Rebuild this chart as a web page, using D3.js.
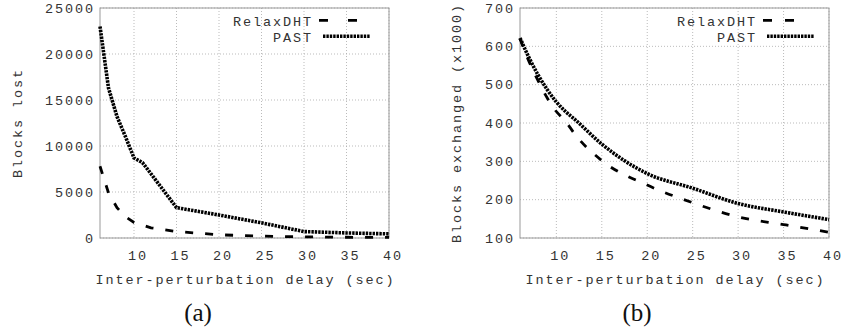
<!DOCTYPE html>
<html>
<head>
<meta charset="utf-8">
<script src="https://cdn.jsdelivr.net/npm/d3@7"></script>
<style>
  body { margin: 0; background: #fff; }
  .mono { font-family: "Liberation Mono", "DejaVu Sans Mono", monospace; font-size: 13.5px; letter-spacing: 1.9px; fill: #333; }
  .caption { font-family: "Liberation Serif", "DejaVu Serif", serif; font-size: 25px; fill: #111; }
  .grid { stroke: #aaa; stroke-width: 0.8; stroke-dasharray: 1,2; }
  .frame { fill: none; stroke: #999; stroke-width: 1; }
</style>
</head>
<body>
<script>
// (a) blocks lost
const lostPastDelays = [6, 7, 8, 9, 10, 11, 15, 20, 25, 30, 35, 40];
const lostPast = [23000, 16300, 13200, 11000, 8700, 8200, 3300, 2500, 1650, 700, 550, 450];
const lostRelaxDelays = [6, 7, 8, 9, 10, 12, 15, 20, 25, 30, 35, 40];
const lostRelax = [7800, 4900, 3300, 2300, 1700, 1100, 700, 350, 200, 120, 80, 60];
const lostTicks = [0, 5000, 10000, 15000, 20000, 25000];

// (b) blocks exchanged (x1000)
const exDelays = [6, 7, 8, 9, 10, 11, 12, 15, 20, 25, 30, 35, 40];
const exPast = [622, 570, 525, 487, 455, 430, 410, 345, 268, 230, 190, 168, 148];
const exRelax = [620, 560, 510, 465, 430, 405, 372, 302, 238, 192, 155, 135, 115];
const exTicks = [100, 200, 300, 400, 500, 600, 700];

const delayTicks = [10, 15, 20, 25, 30, 35, 40];
const seriesNames = ["RelaxDHT", "PAST"];

const W = 843, H = 333;
const svg = d3.select("body").append("svg")
    .attr("width", W)
    .attr("height", H);

function drawPanel(p) {
    const x = d3.scaleLinear().domain([6, 40]).range([p.left, p.right]);
    const y = d3.scaleLinear().domain(p.yDomain).range([238, 8]);
    const g = svg.append("g");

    // grid
    g.selectAll(".gy").data(p.yTicks).enter().append("line")
        .attr("class", "grid")
        .attr("x1", p.left).attr("x2", p.right)
        .attr("y1", d => y(d)).attr("y2", d => y(d));
    g.selectAll(".gx").data(delayTicks).enter().append("line")
        .attr("class", "grid")
        .attr("x1", d => x(d)).attr("x2", d => x(d))
        .attr("y1", 8).attr("y2", 238);

    g.append("rect")
        .attr("class", "frame")
        .attr("x", p.left).attr("y", 8)
        .attr("width", p.right - p.left).attr("height", 230);

    // tick labels
    g.selectAll(".ty").data(p.yTicks).enter().append("text")
        .attr("class", "mono")
        .attr("text-anchor", "end")
        .attr("x", p.left - 5)
        .attr("y", d => y(d) + 4.5)
        .text(d => d);
    g.selectAll(".tx").data(delayTicks).enter().append("text")
        .attr("class", "mono")
        .attr("text-anchor", "middle")
        .attr("x", d => x(d) + 4)
        .attr("y", 259.5)
        .text(d => d);

    g.append("text")
        .attr("class", "mono")
        .attr("text-anchor", "middle")
        .attr("x", (p.left + p.right) / 2 + 1)
        .attr("y", 283.5)
        .text("Inter-perturbation delay (sec)");

    g.append("text")
        .attr("class", "mono")
        .attr("text-anchor", "middle")
        .attr("transform", `translate(${p.yLabelX},123) rotate(-90)`)
        .text(p.yLabel);

    g.append("text")
        .attr("class", "caption")
        .attr("text-anchor", "middle")
        .attr("x", p.captionX)
        .attr("y", 321)
        .text(p.caption);

    // lines
    const line = d3.line()
        .x(d => x(d[0]))
        .y(d => y(d[1]))
        .curve(p.curve);

    g.append("path")
        .datum(d3.zip(p.relaxX, p.relax))
        .attr("d", line)
        .attr("fill", "none")
        .attr("stroke", "#000")
        .attr("stroke-width", 2.8)
        .attr("stroke-dasharray", "8,12");

    g.append("path")
        .datum(d3.zip(p.pastX, p.past))
        .attr("d", line)
        .attr("fill", "none")
        .attr("stroke", "#000")
        .attr("stroke-width", 3.6)
        .attr("stroke-dasharray", "2.4,1");

    // legend
    const lg = g.append("g");
    lg.selectAll("text").data(seriesNames).enter().append("text")
        .attr("class", "mono")
        .attr("text-anchor", "end")
        .attr("x", p.legendX - 2)
        .attr("y", (d, i) => 26 + i * 15.5)
        .text(d => d);
    lg.append("line")
        .attr("x1", p.legendX + 4).attr("x2", p.legendX + 42)
        .attr("y1", 20.3).attr("y2", 20.3)
        .attr("stroke", "#000").attr("stroke-width", 2.8)
        .attr("stroke-dasharray", p.legendDash);
    lg.append("line")
        .attr("x1", p.legendX + 8).attr("x2", p.legendX + 55)
        .attr("y1", 36.3).attr("y2", 36.3)
        .attr("stroke", "#000").attr("stroke-width", 3.6)
        .attr("stroke-dasharray", "2.4,1");
}

drawPanel({
    left: 100, right: 389,
    yDomain: [0, 25000], yTicks: lostTicks,
    yLabel: "Blocks lost", yLabelX: 22,
    caption: "(a)", captionX: 198,
    pastX: lostPastDelays, past: lostPast,
    relaxX: lostRelaxDelays, relax: lostRelax,
    legendX: 315, legendDash: "9,20",
    curve: d3.curveLinear
});

drawPanel({
    left: 520, right: 829,
    yDomain: [100, 700], yTicks: exTicks,
    yLabel: "Blocks exchanged (x1000)", yLabelX: 461,
    caption: "(b)", captionX: 637,
    pastX: exDelays, past: exPast,
    relaxX: exDelays, relax: exRelax,
    legendX: 759, legendDash: "9,13",
    curve: d3.curveMonotoneX
});
</script>
</body>
</html>
